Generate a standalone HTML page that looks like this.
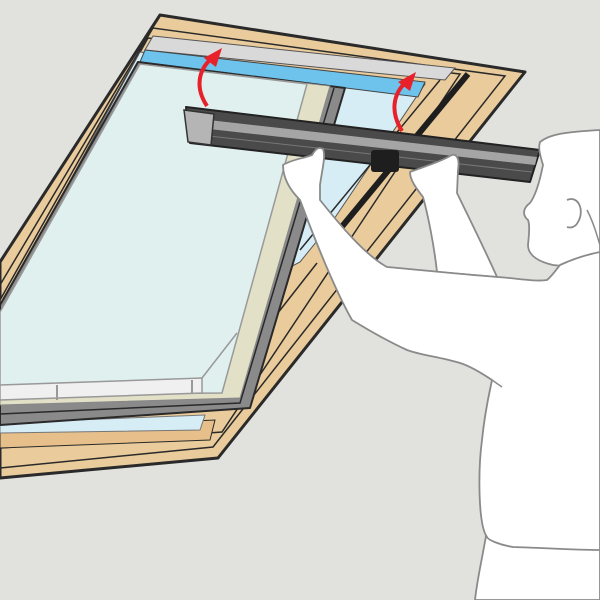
<!DOCTYPE html>
<html><head><style>html,body{margin:0;padding:0;background:#e1e2de}svg{display:block}</style></head>
<body>
<svg width="600" height="600" viewBox="0 0 600 600" xmlns="http://www.w3.org/2000/svg">
<rect width="600" height="600" fill="#e1e2de"/>
<polygon points="0,262 160,15 525,72 218,458 0,478" fill="#e9cb9c" stroke="#2a2a2a" stroke-width="3" stroke-linejoin="round"/>
<polyline points="0,285 153,28 505,76 213,447 0,468" fill="none" stroke="#2a2a2a" stroke-width="1.5"/>
<polygon points="0,300 148,38 460,74 222,432 0,448" fill="#e9cb9c" stroke="#2a2a2a" stroke-width="1.5"/>
<polygon points="0,430 215,420 210,440 0,448" fill="#e6bf8a" stroke="#2a2a2a" stroke-width="1"/>
<polygon points="0,310 140,52 425,84 330,225 300,262 0,420" fill="#d6edf6" stroke="#555" stroke-width="1"/>
<polygon points="0,423 205,415 200,430 0,433" fill="#d6edf6" stroke="#777" stroke-width="1"/>
<line x1="468" y1="74" x2="335" y2="235" stroke="#1e1e1e" stroke-width="6"/>
<line x1="440" y1="80" x2="300" y2="250" stroke="#2a2a2a" stroke-width="1.5"/>
<line x1="317" y1="263" x2="270" y2="323" stroke="#2a2a2a" stroke-width="1.5"/>
<polygon points="153,36 455,68 445,80 145,50" fill="#d9d9d9" stroke="#555" stroke-width="1"/>
<polygon points="145,50 425,82 418,97 140,62" fill="#6ec3ec" stroke="#444" stroke-width="1"/>
<polygon points="0,305 138,62 345,88 250,408 0,425" fill="#8a8a8a" stroke="#2a2a2a" stroke-width="2" stroke-linejoin="round"/>
<polyline points="0,414 240,403 334,88" fill="none" stroke="#2a2a2a" stroke-width="1.5"/>
<polygon points="0,312 140,64 330,86 240,398 0,405" fill="#e2e0c6" stroke="#888" stroke-width="1"/>
<polygon points="0,312 140,64 307,84 222,393 0,395" fill="#dff0ef" stroke="#999" stroke-width="1.5"/>
<polygon points="0,385 202,378 202,393 0,400" fill="#f0f0f0" stroke="#999" stroke-width="1.5"/>
<line x1="57" y1="385" x2="57" y2="400" stroke="#999" stroke-width="2"/>
<line x1="192" y1="380" x2="192" y2="393" stroke="#999" stroke-width="2"/>
<line x1="202" y1="378" x2="237" y2="333" stroke="#999" stroke-width="1.5"/>
<polygon points="186,107 540,150 530,182 190,143" fill="#4a4a4a" stroke="#222" stroke-width="2" stroke-linejoin="round"/>
<polygon points="200,119 537,157 535,165 200,128" fill="#a5a5a5"/>
<line x1="200" y1="135" x2="532" y2="172" stroke="#777" stroke-width="1"/>
<polygon points="184,110 214,114 211,145 188,142" fill="#b5b5b5" stroke="#333" stroke-width="1.5"/>
<rect x="371" y="150" width="28" height="22" rx="3" fill="#1e1e1e"/>
<path d="M207,106 C195,88 198,70 212,58" fill="none" stroke="#e8202a" stroke-width="4"/>
<polygon points="204,58 222,48 216,67" fill="#e8202a"/>
<path d="M402,131 C390,112 393,94 406,82" fill="none" stroke="#e8202a" stroke-width="4"/>
<polygon points="398,82 416,72 410,91" fill="#e8202a"/>
<path d="M410,172 C420,168 440,162 450,156 C456,152 460,158 458,170 L457,193 C470,220 485,250 497,277 L437,272 C434,245 428,215 423,197 C416,188 410,180 410,172 Z" fill="#fff" stroke="#8a8a8a" stroke-width="1.8" stroke-linejoin="round"/>
<path d="M540,142 C550,134 565,132 600,130 L600,270 L553,265 C540,262 528,256 528,245 C529,235 530,225 528,220 C522,215 523,208 530,203 C536,195 540,180 543,165 C540,155 538,148 540,142 Z" fill="#fff" stroke="#8a8a8a" stroke-width="1.8" stroke-linejoin="round"/>
<path d="M567,200 C578,195 585,210 578,222 C575,228 570,228 567,227" fill="none" stroke="#8a8a8a" stroke-width="1.8"/>
<path d="M587,210 C595,225 598,240 600,245" fill="none" stroke="#8a8a8a" stroke-width="1.5"/>
<path d="M487,530 C482,560 477,580 475,600 L600,600 L600,540 Z" fill="#fff" stroke="#8a8a8a" stroke-width="1.8"/>
<path d="M283,165 C290,160 305,158 312,155 C315,150 318,146 323,149 C326,156 322,170 320,185 L320,200 C340,225 365,255 387,267 C420,270 460,274 497,277 C515,278 535,282 547,280 C552,276 556,270 560,265 C575,258 590,254 600,252 L600,550 C575,550 545,548 513,547 C500,545 488,540 487,537 C478,525 478,470 482,440 C485,410 490,390 492,380 C480,372 470,366 460,363 C440,357 420,355 407,350 C385,340 365,328 352,320 C335,290 315,240 300,200 C290,190 283,178 283,165 Z" fill="#fff" stroke="#8a8a8a" stroke-width="1.8" stroke-linejoin="round"/>
<path d="M492,380 L502,387" stroke="#8a8a8a" stroke-width="1.5"/>
</svg>
</body></html>
